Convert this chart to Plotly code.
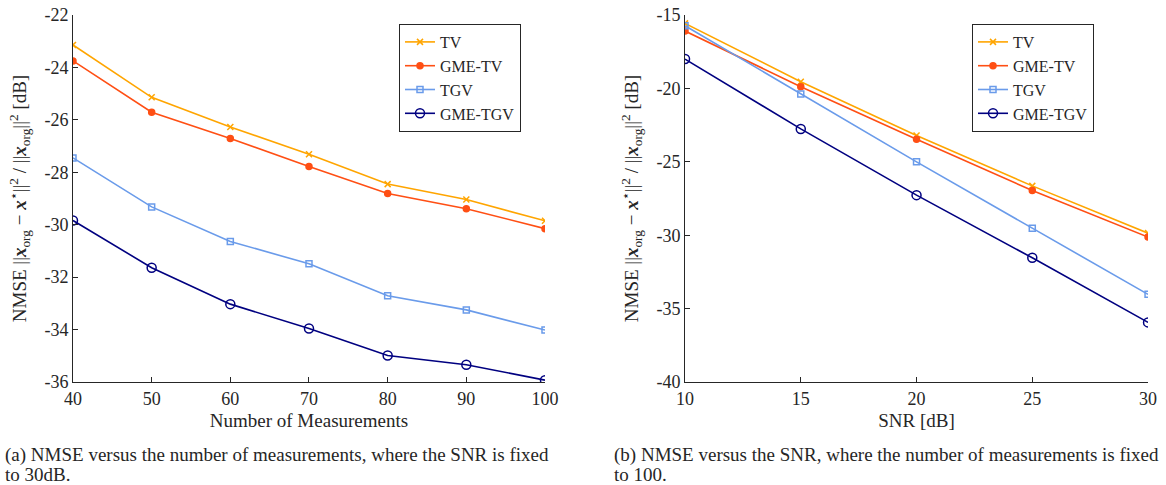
import plotly.graph_objects as go

# ---- data ----
meas = [40, 50, 60, 70, 80, 90, 100]
tv_a = [-23.14, -25.14, -26.27, -27.31, -28.45, -29.04, -29.85]
gmetv_a = [-23.75, -25.71, -26.71, -27.78, -28.81, -29.39, -30.15]
tgv_a = [-27.45, -29.32, -30.64, -31.49, -32.71, -33.25, -34.02]
gmetgv_a = [-29.84, -31.64, -33.03, -33.96, -34.99, -35.34, -35.93]

snr = [10, 15, 20, 25, 30]
tv_b = [-15.57, -19.54, -23.21, -26.64, -29.86]
gmetv_b = [-16.09, -19.88, -23.46, -26.96, -30.13]
tgv_b = [-15.73, -20.38, -25.00, -29.52, -34.03]
gmetgv_b = [-18.00, -22.76, -27.27, -31.54, -35.94]

names = ["TV", "GME-TV", "TGV", "GME-TGV"]
yticks_a = [-36, -34, -32, -30, -28, -26, -24, -22]
yticks_b = [-40, -35, -30, -25, -20, -15]
xticks_a = [40, 50, 60, 70, 80, 90, 100]
xticks_b = [10, 15, 20, 25, 30]

caption_a = ["(a) NMSE versus the number of measurements, where the SNR is fixed", "to 30dB."]
caption_b = ["(b) NMSE versus the SNR, where the number of measurements is fixed", "to 100."]

# ---- styles ----
FONT = "Liberation Serif, Times New Roman, serif"
colors = ["#FFA500", "#FF4F14", "#6A9BEA", "#000080"]
symbols = ["x-thin-open", "circle", "square-open", "circle-open"]
sizes = [6, 6, 6, 9]

fig = go.Figure()

def add_series(x, ys, xa, ya, legend):
    for i, y in enumerate(ys):
        fig.add_trace(go.Scatter(
            x=x, y=y, name=names[i], mode="lines+markers",
            xaxis=xa, yaxis=ya, legend=legend,
            line=dict(color=colors[i], width=1.6),
            marker=dict(symbol=symbols[i], size=sizes[i], color=colors[i],
                        line=dict(color=colors[i], width=1.5)),
        ))

add_series(meas, [tv_a, gmetv_a, tgv_a, gmetgv_a], "x", "y", "legend")
add_series(snr, [tv_b, gmetv_b, tgv_b, gmetgv_b], "x2", "y2", "legend2")

ytitle = ("NMSE ||<b><i>x</i></b><sub>org</sub> − <b><i>x</i></b><sup>⋆</sup>||<sup>2</sup>"
          " / ||<b><i>x</i></b><sub>org</sub>||<sup>2</sup> [dB]")

axis_common = dict(showline=True, linecolor="#262626", linewidth=1, mirror=False,
                   ticks="inside", ticklen=5, tickcolor="#262626", showgrid=False,
                   zeroline=False, automargin=False,
                   tickfont=dict(family=FONT, size=18, color="#262626"))

yd = [0.2124, 0.969]
TF = dict(family=FONT, size=19, color="#262626")
LEG = dict(y=1 - 24/485, xanchor="left", yanchor="top",
           bgcolor="white", bordercolor="#262626", borderwidth=1,
           font=dict(family=FONT, size=16), tracegroupgap=0, itemwidth=30)
fig.update_layout(
    width=1166, height=485,
    margin=dict(l=0, r=0, t=0, b=0),
    paper_bgcolor="white", plot_bgcolor="white",
    font=dict(family=FONT, size=18, color="#262626"),
    xaxis=dict(domain=[0.0626, 0.4674], range=[40, 100], tickvals=xticks_a,
               title=dict(text="Number of Measurements", font=TF, standoff=6),
               anchor="y", **axis_common),
    yaxis=dict(domain=yd, range=[-36, -22], tickvals=yticks_a,
               ticktext=[str(v) for v in yticks_a],
               title=dict(text=ytitle, font=TF, standoff=12),
               anchor="x", **axis_common),
    xaxis2=dict(domain=[0.5875, 0.9846], range=[10, 30], tickvals=xticks_b,
                title=dict(text="SNR [dB]", font=TF, standoff=6),
                anchor="y2", **axis_common),
    yaxis2=dict(domain=yd, range=[-40, -15], tickvals=yticks_b,
                ticktext=[str(v) for v in yticks_b],
                title=dict(text=ytitle, font=TF, standoff=12),
                anchor="x2", **axis_common),
    legend=dict(x=399/1166, **LEG),
    legend2=dict(x=972/1166, **LEG),
    showlegend=True,
)

for cap, x0 in ((caption_a, 3), (caption_b, 612)):
    for line, yc in zip(cap, (455, 474)):
        fig.add_annotation(text=line, x=x0/1166, y=1 - yc/485, xref="paper", yref="paper",
                           xanchor="left", yanchor="middle", align="left", showarrow=False,
                           font=dict(family=FONT, size=19, color="#262626"))

fig.write_html("out.html", config={"displayModeBar": False},
               post_script="document.body.style.margin='0';document.body.style.overflow='hidden';")
